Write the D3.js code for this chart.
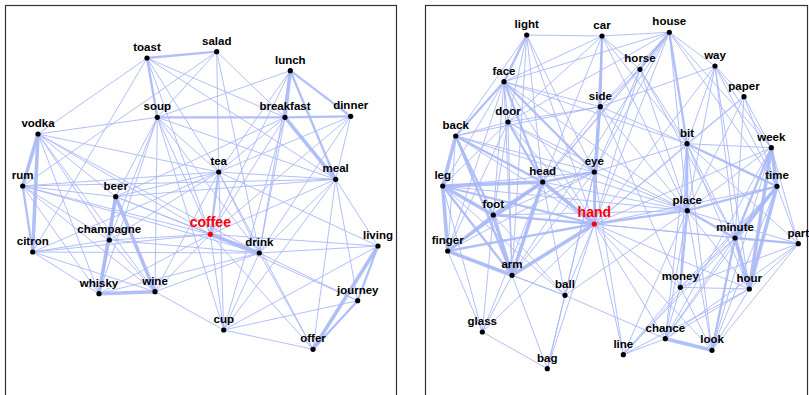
<!DOCTYPE html>
<html>
<head>
<meta charset="utf-8">
<script src="https://cdn.jsdelivr.net/npm/d3@7"></script>
<style>
  html, body { margin: 0; padding: 0; background: #fff; }
  svg { display: block; }
</style>
</head>
<body>
<svg id="chart" width="809" height="395"></svg>
<script>
// ---- Network 1: words associated with "coffee" ----
const foodWords = ["toast","salad","lunch","breakfast","dinner","soup","vodka","rum","beer","tea",
  "meal","coffee","drink","living","journey","cup","offer","champagne","citron","whisky","wine"];
// layout coordinates (layout units)
const foodX = [142,211.7,285.3,280,345.7,152.3,33,17.7,110.7,213.7,330.7,205.3,254.3,373,352.7,218.7,308,104.3,27.7,94,150];
const foodY = [53,46.7,65.7,112.3,111.3,112.3,129,181,191.7,167,174.3,229.3,248,241,295.7,325,344.3,235,247,288.7,286.7];
const foodLinks = [
  ["toast","salad",2],["toast","soup",2],["toast","vodka",1],["toast","tea",1],["toast","breakfast",1],
  ["toast","coffee",1],["toast","citron",1],["toast","meal",1],
  ["salad","soup",1],["salad","tea",1],["salad","breakfast",1],["salad","rum",1],["salad","drink",1],
  ["lunch","breakfast",3],["lunch","meal",2],["lunch","dinner",2],["lunch","soup",1],["lunch","tea",1],
  ["lunch","coffee",1],["lunch","drink",1],
  ["breakfast","soup",2],["breakfast","dinner",2],["breakfast","meal",3],["breakfast","tea",1],
  ["breakfast","coffee",1],["breakfast","drink",1],["breakfast","cup",1],["breakfast","beer",1],
  ["dinner","meal",1],["dinner","coffee",1],["dinner","drink",1],["dinner","tea",1],
  ["soup","vodka",1],["soup","tea",1],["soup","coffee",1],["soup","drink",1],["soup","champagne",1],
  ["soup","whisky",1],["soup","wine",1],["soup","beer",1],["soup","meal",1],["soup","cup",1],
  ["tea","coffee",2],["tea","drink",1],["tea","cup",1],["tea","meal",1],["tea","beer",1],["tea","rum",1],
  ["tea","champagne",1],["tea","wine",1],["tea","living",1],["tea","offer",1],["tea","vodka",1],["tea","citron",1],
  ["coffee","drink",3],["coffee","cup",1],["coffee","meal",1],["coffee","wine",1],["coffee","whisky",1],
  ["coffee","champagne",1],["coffee","beer",1],["coffee","rum",1],["coffee","citron",1],["coffee","vodka",1],
  ["coffee","living",1],["coffee","journey",1],["coffee","offer",1],
  ["drink","cup",1],["drink","meal",1],["drink","living",1],["drink","offer",1],["drink","wine",1],
  ["drink","whisky",1],["drink","champagne",1],["drink","rum",1],["drink","journey",1],["drink","vodka",1],
  ["drink","citron",1],["drink","beer",1],
  ["meal","living",1],["meal","journey",1],["meal","cup",1],["meal","offer",1],["meal","rum",1],["meal","beer",1],
  ["living","journey",2],["living","offer",3],["living","cup",1],
  ["journey","offer",2],["journey","cup",1],
  ["cup","offer",1],["cup","wine",1],
  ["vodka","rum",3],["vodka","citron",3],["rum","citron",2],["vodka","whisky",1],["vodka","wine",1],
  ["vodka","champagne",1],["vodka","beer",1],["rum","beer",1],["rum","champagne",1],["rum","whisky",1],
  ["rum","wine",1],["citron","champagne",1],["citron","wine",1],["citron","whisky",1],
  ["beer","champagne",2],["beer","whisky",3],["beer","wine",3],["champagne","whisky",2],
  ["champagne","wine",1],["whisky","wine",3]
];

// ---- Network 2: words associated with "hand" ----
const bodyWords = ["light","car","house","face","horse","way","side","paper","door","back","bit","week",
  "eye","head","leg","time","foot","hand","place","minute","part","finger","arm","ball","money","hour",
  "glass","chance","look","bag","line"];
const bodyX = [101.7,177,244.3,79,215,290,175.3,319,83,30.7,262,346.3,169.3,117.7,17.7,352,68.3,169.3,
  262.3,310,373.3,22.7,87,140,255.3,324.3,57.3,240.3,287,122.3,198.3];
const bodyY = [30,31,27.3,76.7,64.3,61,101.7,91.7,117,131,138.7,142.7,167,177,181,181.3,210,219,
  205.7,233,238.7,246,270.3,290.3,282.3,284,327,333.7,345.3,363.7,349.7];
const bodyLinks = [
  ["hand","head",3],["hand","eye",2],["hand","foot",2],["hand","arm",3],["hand","finger",2],["hand","leg",2],
  ["hand","back",1],["hand","face",1],["hand","door",1],["hand","side",1],["hand","light",1],["hand","car",1],
  ["hand","house",1],["hand","horse",1],["hand","way",1],["hand","bit",1],["hand","place",2],["hand","minute",1],
  ["hand","time",1],["hand","part",1],["hand","ball",1],["hand","money",1],["hand","hour",1],["hand","chance",1],
  ["hand","look",1],["hand","line",1],["hand","bag",1],["hand","glass",1],["hand","week",1],["hand","paper",1],
  ["light","car",1],["light","face",2],["light","back",1],["light","head",1],["light","eye",1],["light","door",1],
  ["light","arm",1],
  ["car","house",1],["car","side",2],["car","horse",1],["car","face",1],["car","head",1],["car","eye",1],
  ["car","bit",1],["car","door",1],["car","place",1],
  ["house","horse",2],["house","side",1],["house","way",1],["house","bit",2],["house","face",1],["house","door",1],
  ["house","eye",1],["house","week",1],["house","time",1],["house","place",1],["house","head",1],["house","arm",1],
  ["face","door",1],["face","back",2],["face","head",2],["face","eye",2],["face","leg",1],["face","foot",1],
  ["face","arm",1],["face","side",1],["face","finger",1],["face","bit",1],["face","place",1],
  ["horse","side",1],["horse","bit",1],["horse","place",1],["horse","head",1],["horse","eye",1],["horse","minute",1],
  ["way","paper",1],["way","bit",1],["way","week",1],["way","time",1],["way","place",1],["way","hour",1],
  ["way","side",1],["way","minute",1],
  ["side","eye",2],["side","head",1],["side","back",1],["side","bit",1],["side","place",1],["side","door",1],
  ["side","money",1],
  ["paper","week",1],["paper","bit",1],["paper","time",1],["paper","place",1],["paper","minute",1],
  ["door","back",1],["door","head",2],["door","eye",1],["door","leg",1],["door","foot",1],["door","arm",1],
  ["door","finger",1],["door","place",1],
  ["back","leg",3],["back","head",2],["back","foot",2],["back","finger",1],["back","arm",2],["back","eye",1],
  ["back","place",1],
  ["bit","place",2],["bit","time",2],["bit","week",1],["bit","minute",1],["bit","hour",1],["bit","money",1],
  ["bit","chance",1],["bit","look",1],["bit","eye",1],["bit","part",1],
  ["week","time",3],["week","minute",2],["week","hour",3],["week","part",1],["week","place",1],["week","look",1],
  ["week","chance",1],
  ["eye","head",2],["eye","foot",1],["eye","leg",1],["eye","arm",1],["eye","ball",1],["eye","finger",1],["eye","place",1],
  ["eye","line",1],["eye","bag",1],
  ["head","leg",3],["head","foot",3],["head","arm",3],["head","finger",2],["head","ball",1],["head","glass",1],
  ["head","place",1],
  ["leg","foot",3],["leg","finger",3],["leg","arm",2],["leg","glass",1],["leg","place",1],["leg","ball",1],
  ["time","minute",3],["time","hour",3],["time","part",1],["time","place",2],["time","money",1],["time","chance",1],
  ["time","look",1],["time","line",1],
  ["foot","finger",2],["foot","arm",3],["foot","glass",1],["foot","ball",1],["foot","place",1],
  ["place","minute",2],["place","hour",1],["place","money",2],["place","chance",1],["place","look",1],
  ["place","line",1],["place","part",1],["place","ball",1],
  ["minute","hour",3],["minute","part",2],["minute","money",1],["minute","chance",1],["minute","look",2],["minute","line",1],
  ["part","hour",1],["part","look",1],["part","chance",1],["part","money",1],
  ["finger","arm",3],["finger","glass",1],["finger","ball",1],
  ["arm","ball",1],["arm","glass",1],["arm","bag",1],
  ["ball","bag",1],["ball","chance",1],
  ["money","chance",1],["money","look",1],["money","hour",1],["money","line",1],
  ["hour","chance",1],["hour","look",1],["hour","line",1],
  ["glass","bag",1],
  ["chance","look",3],["chance","line",1]
];

const centreWords = ["coffee","hand"];

// ---- drawing ----
const svg = d3.select("#chart");
const linkColor = "#a9b8f7";
const widthScale = d3.scaleLinear().domain([1, 3]).range([1, 3.6]);

const panels = [
  { words: foodWords, xs: foodX, ys: foodY, links: foodLinks, left: 5, top: 5, w: 392, h: 400 },
  { words: bodyWords, xs: bodyX, ys: bodyY, links: bodyLinks, left: 425, top: 5, w: 383, h: 400 }
];

panels.forEach(p => {
  const x = d3.scaleLinear().domain([0, p.w]).range([p.left, p.left + p.w]);
  const y = d3.scaleLinear().domain([0, p.h]).range([p.top, p.top + p.h]);
  const nodes = p.words.map((w, i) => ({ id: w, x: p.xs[i], y: p.ys[i] }));
  const byId = new Map(nodes.map(n => [n.id, n]));
  const links = p.links.map(([s, t, w]) => ({ s: byId.get(s), t: byId.get(t), w }))
    .sort((a, b) => a.w - b.w);

  const g = svg.append("g");

  g.append("rect")
    .attr("x", p.left + 0.5).attr("y", p.top + 0.5)
    .attr("width", p.w - 1).attr("height", p.h)
    .attr("fill", "none").attr("stroke", "#333").attr("stroke-width", 1.2);

  g.append("g").selectAll("line").data(links).join("line")
    .attr("x1", d => x(d.s.x)).attr("y1", d => y(d.s.y))
    .attr("x2", d => x(d.t.x)).attr("y2", d => y(d.t.y))
    .attr("stroke", linkColor)
    .attr("stroke-opacity", 0.9)
    .attr("stroke-width", d => widthScale(d.w));

  const nodeG = g.append("g").selectAll("g").data(nodes).join("g")
    .attr("transform", d => `translate(${x(d.x)},${y(d.y)})`);

  nodeG.append("circle")
    .attr("r", 2.6)
    .attr("fill", d => centreWords.includes(d.id) ? "#ff0000" : "#000");

  nodeG.append("text")
    .attr("text-anchor", "middle")
    .attr("y", -7)
    .attr("font-family", "Liberation Sans, Arial, sans-serif")
    .attr("font-weight", "bold")
    .attr("font-size", d => centreWords.includes(d.id) ? 14 : 11.5)
    .attr("fill", d => centreWords.includes(d.id) ? "#ff0000" : "#000")
    .text(d => d.id);
});
</script>
</body>
</html>
